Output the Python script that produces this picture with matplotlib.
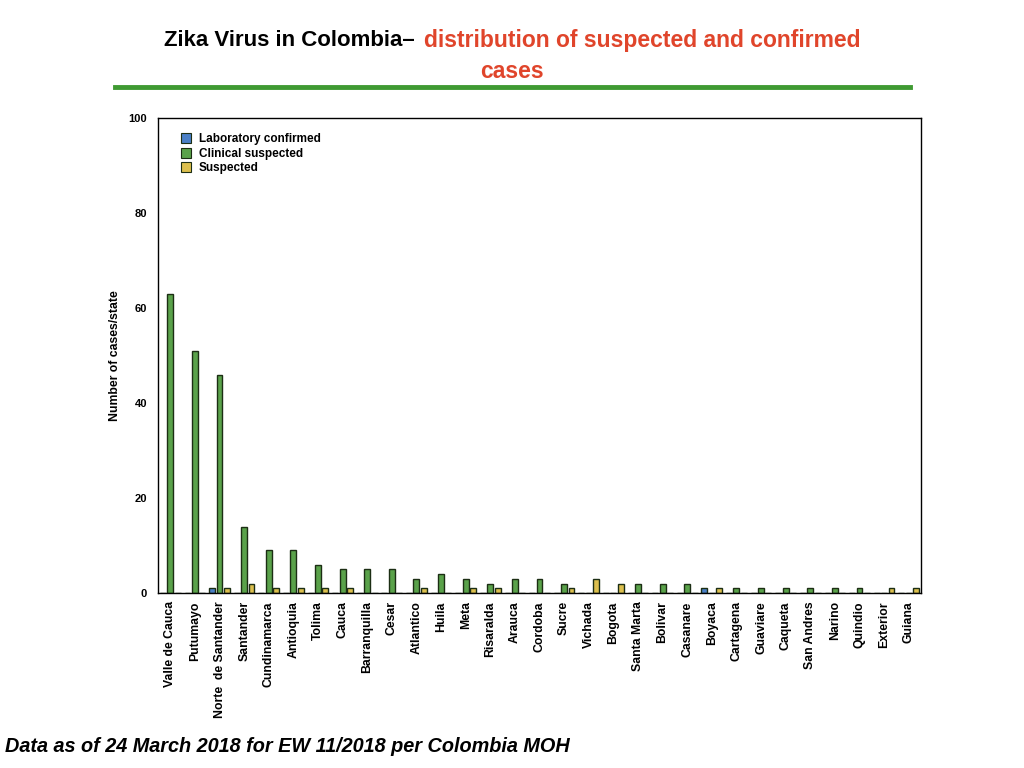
import matplotlib
matplotlib.use("Agg")
import matplotlib.pyplot as plt
import numpy as np
from matplotlib.lines import Line2D

states = ["Valle de Cauca", "Putumayo", "Norte  de Santander", "Santander", "Cundinamarca",
          "Antioquia", "Tolima", "Cauca", "Barranquilla", "Cesar", "Atlantico", "Huila",
          "Meta", "Risaralda", "Arauca", "Cordoba", "Sucre", "Vichada", "Bogota",
          "Santa Marta", "Bolivar", "Casanare", "Boyaca", "Cartagena", "Guaviare",
          "Caqueta", "San Andres", "Narino", "Quindio", "Exterior", "Guiana"]
lab_confirmed = [0, 0, 1, 0, 0, 0, 0, 0, 0, 0, 0, 0, 0, 0, 0, 0, 0, 0, 0, 0, 0, 0, 1, 0, 0, 0, 0, 0, 0, 0, 0]
clinical_suspected = [63, 51, 46, 14, 9, 9, 6, 5, 5, 5, 3, 4, 3, 2, 3, 3, 2, 0, 0, 2, 2, 2, 0, 1, 1, 1, 1, 1, 1, 0, 0]
suspected = [0, 0, 1, 2, 1, 1, 1, 1, 0, 0, 1, 0, 1, 1, 0, 0, 1, 3, 2, 0, 0, 0, 1, 0, 0, 0, 0, 0, 0, 1, 1]
series_names = ["Laboratory confirmed", "Clinical suspected", "Suspected"]
yticks = [0, 20, 40, 60, 80, 100]

FONT = "Liberation Sans"
plt.rcParams["font.family"] = [FONT, "DejaVu Sans"]

fig = plt.figure(figsize=(10.24, 7.68), dpi=100)
ax = fig.add_axes([158/1024, 1-593/768, (921-158)/1024, (593-118)/768])

x = np.arange(len(states))
w = 0.24
off = 0.30
cols = ["#4a7fc6", "#5aa24a", "#dcbf4e"]
edge = "#1c2e14"
for vals, dx, c in zip([lab_confirmed, clinical_suspected, suspected], [-off, 0, off], cols):
    ax.bar(x + dx, vals, width=w, color=c, edgecolor=edge, linewidth=1.0)

ax.set_xlim(-0.5, len(states) - 0.5)
ax.set_ylim(0, 100)
ax.set_yticks(yticks)
ax.set_yticklabels([str(t) for t in yticks], fontsize=8, fontweight="bold")
ax.set_xticks(x)
ax.set_xticklabels(states, rotation=90, fontsize=8.8, fontweight="bold", va="top", ha="center")
ax.tick_params(axis="y", length=0, pad=8)
ax.tick_params(axis="x", length=0, pad=6)
for s in ax.spines.values():
    s.set_linewidth(1.0)
    s.set_color("black")
ax.set_ylabel("Number of cases/state", fontsize=8.8, fontweight="bold", labelpad=5)

handles = [Line2D([0], [0], marker="s", linestyle="none", markersize=6.5,
                  markerfacecolor=c, markeredgecolor=edge, markeredgewidth=0.8) for c in cols]
ax.legend(handles, series_names, loc="upper left", bbox_to_anchor=(0.018, 0.985),
          frameon=False, prop={"size": 8.5, "weight": "bold"}, handletextpad=0.6,
          labelspacing=0.2, borderaxespad=0.3, handlelength=1.0)

# Title built from two coloured parts
fig.canvas.draw()
r = fig.canvas.get_renderer()
t1 = fig.text(0, 1-41/768, "Zika Virus in Colombia\u2013", fontsize=16, fontweight="bold",
              color="black", va="center", ha="left")
t2 = fig.text(0, 1-41/768, "distribution of suspected and confirmed", fontsize=16.5,
              fontweight="bold", color="#e0452b", va="center", ha="left")
w1 = t1.get_window_extent(r).width
w2 = t2.get_window_extent(r).width
gap = 9
total = w1 + gap + w2
start = 512 - total/2
t1.set_x(start/1024)
t2.set_x((start + w1 + gap)/1024)
fig.text(512/1024, 1-72/768, "cases", fontsize=16.5, fontweight="bold", color="#e0452b",
         va="center", ha="center")
fig.add_artist(Line2D([115/1024, 910/1024], [1-87/768, 1-87/768], color="#3f9a32",
                      linewidth=3.5, transform=fig.transFigure))

fig.text(5/1024, 1-746/768, "Data as of 24 March 2018 for EW 11/2018 per Colombia MOH",
         fontsize=14.3, fontweight="bold", fontstyle="italic", va="center", ha="left")

fig.savefig("out.png", dpi=100)
